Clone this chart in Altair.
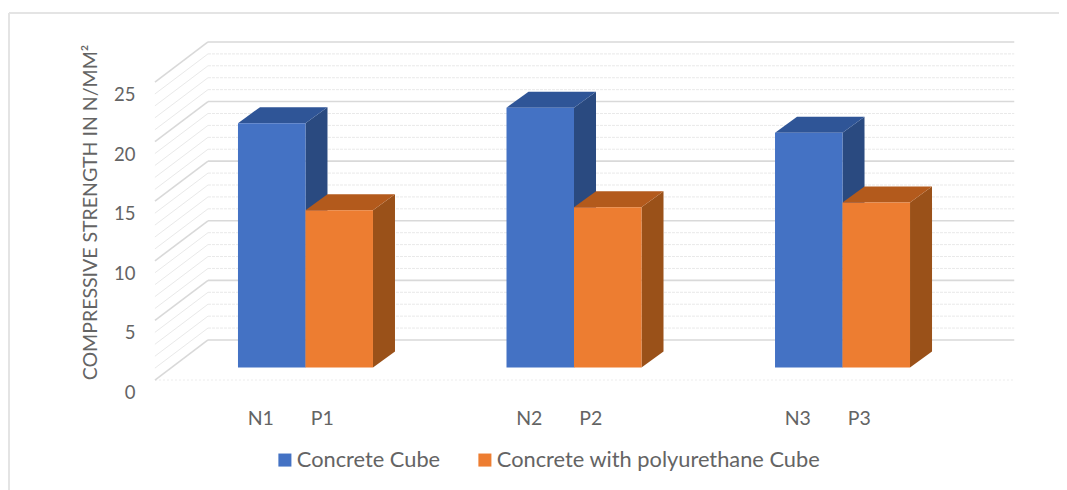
import altair as alt
import pandas as pd

# --- values ---
labels_n = ["N1", "N2", "N3"]
labels_p = ["P1", "P2", "P3"]
values_n = [20.5, 21.8, 19.7]
values_p = [13.2, 13.45, 13.85]
series = ["Concrete Cube", "Concrete with polyurethane Cube"]
y_ticks = [0, 5, 10, 15, 20, 25]
minor_ticks = [v for v in range(0, 26)]

front_colors = ["#4472C4", "#ED7D31"]
side_colors = ["#2A4A80", "#9A5119"]
top_colors = ["#2F5597", "#B35A1C"]
text_color = "#646464"
font = "Lato"

# geometry in data units (x: one bar = 1 unit, y: strength)
GROUP_STEP = 3.978
BAR_DX, BAR_DY = 0.326, 1.34
WALL_X0, WALL_X1, FLOOR_X0 = -0.444, 11.5, -1.23
WALL_DY, FLOOR_DY = 2.31, -1.05
X_DOMAIN = [-3.407, 12.163]
Y_DOMAIN = [-10.277, 30.16]

rows = []
for i in range(3):
    for s, lab, val, x0 in ((0, labels_n[i], values_n[i], 0), (1, labels_p[i], values_p[i], 1)):
        rows.append({"series": series[s], "s": s, "label": lab, "value": val,
                     "left": i * GROUP_STEP + x0, "right": i * GROUP_STEP + x0 + 1,
                     "center": i * GROUP_STEP + x0 + 0.5})
bars = pd.DataFrame(rows)

side_rows, top_rows = [], []
for r in rows:
    for t in (0, 1):
        side_rows.append({"label": r["label"], "s": r["s"], "x": r["right"] + t * BAR_DX,
                          "y": t * BAR_DY, "y2": r["value"] + t * BAR_DY})
        top_rows.append({"label": r["label"], "s": r["s"], "y": r["value"] + t * BAR_DY,
                         "x": r["left"] + t * BAR_DX, "x2": r["right"] + t * BAR_DX})
sides = pd.DataFrame(side_rows)
tops = pd.DataFrame(top_rows)

xs = alt.Scale(domain=X_DOMAIN, nice=False, zero=False)
ys = alt.Scale(domain=Y_DOMAIN, nice=False, zero=False)

y_axis = alt.Axis(values=y_ticks, title="COMPRESSIVE STRENGTH IN N/MM²", grid=False,
                  domain=False, ticks=False, offset=-127, labelPadding=0, labelOffset=25,
                  labelFont=font, labelFontSize=18.5, labelColor=text_color,
                  titleFont=font, titleFontSize=19.5, titleFontWeight="normal",
                  titleColor=text_color, titleX=-45, titleY=204, titleAngle=270,
                  titleAlign="center", titleBaseline="middle")

grid = pd.DataFrame({"v": minor_ticks})
grid["major"] = grid["v"] % 5 == 0
grid["back"] = grid["v"] + WALL_DY
grid["front"] = grid["v"] + FLOOR_DY
grid["x0"], grid["x1"], grid["xf"] = WALL_X0, WALL_X1, FLOOR_X0

layers = []
minor = grid[~grid["major"]]
major = grid[grid["major"]]


def wall(data, color, width, dash=None):
    kw = {"strokeDash": dash} if dash else {}
    h = alt.Chart(data).mark_rule(color=color, strokeWidth=width, **kw).encode(
        x=alt.X("x0:Q", scale=xs, axis=None), x2="x1:Q", y=alt.Y("back:Q", scale=ys, axis=y_axis))
    d = alt.Chart(data).mark_rule(color=color, strokeWidth=width).encode(
        x=alt.X("xf:Q", scale=xs, axis=None), x2="x0:Q",
        y=alt.Y("front:Q", scale=ys, axis=y_axis), y2="back:Q")
    return [h, d]


frame_top = alt.Chart(pd.DataFrame({"a": [0]})).mark_rule(color="#e4e4e4", strokeWidth=2).encode(
    x=alt.value(1), x2=alt.value(1051), y=alt.value(5))
frame_left = alt.Chart(pd.DataFrame({"a": [0]})).mark_rule(color="#e4e4e4", strokeWidth=2).encode(
    x=alt.value(1), y=alt.value(5), y2=alt.value(482))

floor_edge = alt.Chart(major[major["v"] == 0]).mark_rule(
    color="#ececec", strokeWidth=1, strokeDash=[2, 2]).encode(
    x=alt.X("xf:Q", scale=xs, axis=None), x2="x1:Q", y=alt.Y("front:Q", scale=ys, axis=y_axis))

layers += [frame_top, frame_left, floor_edge] + wall(minor, "#e9e9e9", 1, [3, 1]) + wall(major, "#d9d9d9", 1.6)

for s in (0, 1):
    layers.append(alt.Chart(sides[sides["s"] == s]).mark_area(color=side_colors[s], orient="vertical").encode(
        x=alt.X("x:Q", scale=xs, axis=None), y=alt.Y("y:Q", scale=ys, axis=y_axis, stack=None), y2="y2:Q",
        detail="label:N"))
    layers.append(alt.Chart(tops[tops["s"] == s]).mark_area(color=top_colors[s], orient="horizontal").encode(
        y=alt.Y("y:Q", scale=ys, axis=y_axis), x=alt.X("x:Q", scale=xs, axis=None, stack=None), x2="x2:Q",
        detail="label:N"))

fronts = alt.Chart(bars).transform_calculate(zero="0").mark_bar().encode(
    x=alt.X("left:Q", scale=xs, axis=None), x2="right:Q",
    y=alt.Y("zero:Q", scale=ys, axis=y_axis), y2="value:Q",
    color=alt.Color("series:N", scale=alt.Scale(domain=series, range=front_colors),
                    legend=alt.Legend(orient="none", legendX=266, legendY=441, direction="horizontal",
                                      title=None, symbolType="square", symbolSize=170,
                                      symbolStrokeWidth=0, labelFont=font, labelFontSize=21.8,
                                      labelColor=text_color, columnPadding=33, labelOffset=1,
                                      labelLimit=500)),
)
layers.append(fronts)

for s, dx in ((0, -11), (1, -17)):
    layers.append(alt.Chart(bars[bars["s"] == s]).mark_text(
        font=font, fontSize=19.5, color=text_color, dx=dx, baseline="middle", align="center").encode(
        x=alt.X("center:Q", scale=xs, axis=None), y=alt.value(411), text="label:N"))

chart = alt.layer(*layers).properties(
    width=1051, height=482, padding=0, autosize=alt.AutoSizeParams(type="none"), background="white",
).configure_view(stroke=None)

chart.save("out.html", embed_options={"renderer": "svg", "actions": False})
